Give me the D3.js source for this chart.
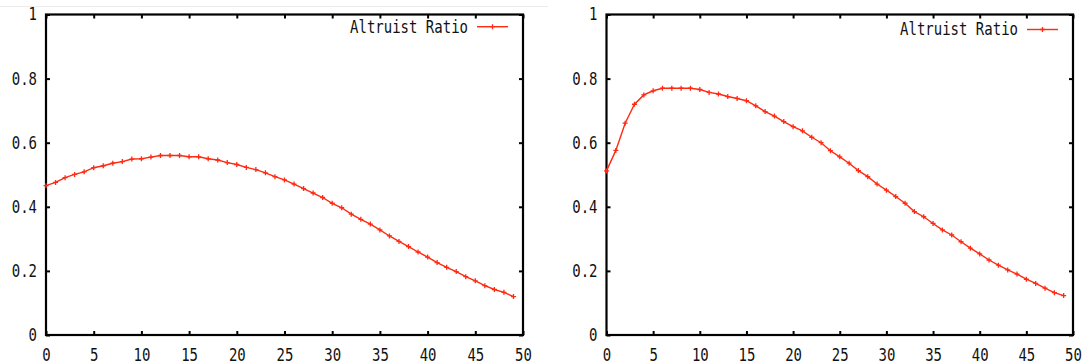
<!DOCTYPE html>
<html>
<head>
<meta charset="utf-8">
<script src="https://cdn.jsdelivr.net/npm/d3@7"></script>
<style>
  body { margin: 0; background: #fff; }
  svg text { font-family: "DejaVu Sans Mono", monospace; font-size: 14px; fill: #111;
             transform-box: fill-box; transform-origin: center; transform: scaleY(1.22); }
</style>
</head>
<body>
<svg id="chart" width="1090" height="364"></svg>
<script>
// values, one per step (x = 0..49)
const leftRatio = [
  0.466, 0.476, 0.491, 0.501, 0.509, 0.522, 0.528, 0.536, 0.541, 0.549,
  0.550, 0.555, 0.560, 0.560, 0.560, 0.556, 0.556, 0.550, 0.546, 0.538,
  0.532, 0.523, 0.516, 0.506, 0.494, 0.484, 0.471, 0.457, 0.443, 0.429,
  0.411, 0.397, 0.377, 0.361, 0.346, 0.328, 0.309, 0.292, 0.276, 0.259,
  0.243, 0.226, 0.211, 0.198, 0.182, 0.169, 0.154, 0.142, 0.133, 0.120
];
const rightRatio = [
  0.512, 0.576, 0.661, 0.720, 0.749, 0.762, 0.770, 0.770, 0.770, 0.770,
  0.766, 0.757, 0.752, 0.744, 0.738, 0.731, 0.715, 0.697, 0.683, 0.666,
  0.650, 0.637, 0.617, 0.600, 0.575, 0.556, 0.536, 0.513, 0.494, 0.471,
  0.452, 0.432, 0.411, 0.385, 0.369, 0.348, 0.328, 0.312, 0.291, 0.271,
  0.253, 0.234, 0.218, 0.203, 0.190, 0.174, 0.161, 0.146, 0.132, 0.123
];
const xTicks = [0, 5, 10, 15, 20, 25, 30, 35, 40, 45, 50];
const yTicks = [0, 0.2, 0.4, 0.6, 0.8, 1];
const legendLabel = "Altruist Ratio";

const RED = "#ff2a12";
const svg = d3.select("#chart");

// faint separator left over from the screenshot
svg.append("line").attr("x1", 0).attr("x2", 548).attr("y1", 6.5).attr("y2", 6.5)
  .attr("stroke", "#ececec").attr("stroke-width", 1);

function drawPanel(values, box, legendY) {
  const x = d3.scaleLinear().domain([0, 50]).range([box.left, box.right]);
  const y = d3.scaleLinear().domain([0, 1]).range([box.bottom, box.top]);
  const g = svg.append("g");

  const fmt = d => String(+d.toFixed(1));

  // inward ticks on all four sides, gnuplot style
  const bottom = g.append("g").attr("transform", `translate(0,${box.bottom})`)
    .call(d3.axisBottom(x).tickValues(xTicks).tickSize(-4).tickPadding(15).tickFormat(fmt));
  const left = g.append("g").attr("transform", `translate(${box.left},0)`)
    .call(d3.axisLeft(y).tickValues(yTicks).tickSize(-4).tickPadding(9).tickFormat(fmt));
  const top = g.append("g").attr("transform", `translate(0,${box.top})`)
    .call(d3.axisTop(x).tickValues(xTicks).tickSize(-4).tickFormat(""));
  const right = g.append("g").attr("transform", `translate(${box.right},0)`)
    .call(d3.axisRight(y).tickValues(yTicks).tickSize(-4).tickFormat(""));

  [bottom, left, top, right].forEach(a => {
    a.select(".domain").remove();
    a.selectAll(".tick line").attr("stroke", "#000").attr("stroke-width", 2);
    a.selectAll("text").attr("fill", "#111").attr("font-size", null).attr("font-family", null);
  });

  g.append("rect")
    .attr("x", box.left).attr("y", box.top)
    .attr("width", box.right - box.left).attr("height", box.bottom - box.top)
    .attr("fill", "none").attr("stroke", "#000").attr("stroke-width", 2.2);

  const pts = values.map((v, i) => [i, v]);
  const line = d3.line().x(d => x(d[0])).y(d => y(d[1]));

  g.append("path").datum(pts).attr("d", line)
    .attr("fill", "none").attr("stroke", RED).attr("stroke-width", 1.4);

  const plus = d3.symbol().type(d3.symbolCross).size(14);
  g.selectAll(".pt").data(pts).join("path").attr("class", "pt")
    .attr("transform", d => `translate(${x(d[0])},${y(d[1])})`)
    .attr("d", "M-2.5,0H2.5M0,-2.5V2.5")
    .attr("stroke", RED).attr("stroke-width", 1.3);

  // key: label + sample line with one marker
  const keyX1 = box.right - 46, keyX2 = box.right - 15;
  g.append("text").attr("x", keyX1 - 9).attr("y", legendY).attr("dy", "0.35em")
    .attr("text-anchor", "end").text(legendLabel);
  g.append("line").attr("x1", keyX1).attr("x2", keyX2).attr("y1", legendY).attr("y2", legendY)
    .attr("stroke", RED).attr("stroke-width", 1.4);
  g.append("path").attr("transform", `translate(${(keyX1 + keyX2) / 2},${legendY})`)
    .attr("d", "M-2.5,0H2.5M0,-2.5V2.5").attr("stroke", RED).attr("stroke-width", 1.3);
}

drawPanel(leftRatio, { left: 46, right: 523, top: 14.5, bottom: 335 }, 26.7);
drawPanel(rightRatio, { left: 606.5, right: 1073, top: 14.5, bottom: 335 }, 29.5);
</script>
</body>
</html>
